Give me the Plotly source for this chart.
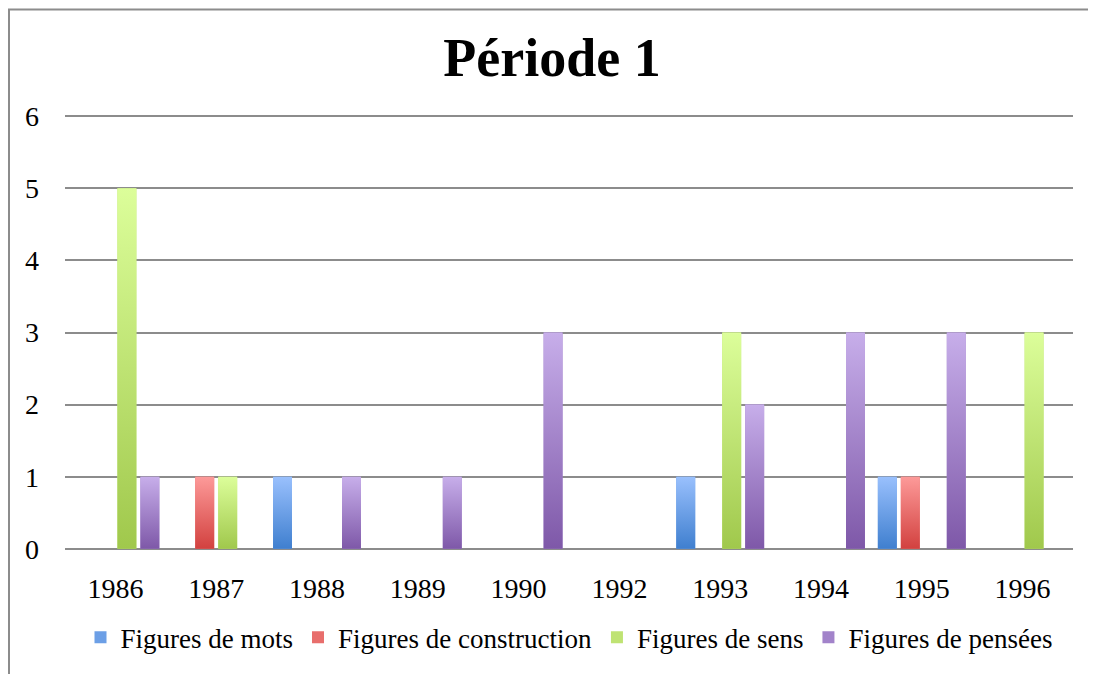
import plotly.graph_objects as go

years = ["1986", "1987", "1988", "1989", "1990", "1992", "1993", "1994", "1995", "1996"]
series_names = ["Figures de mots", "Figures de construction", "Figures de sens", "Figures de pensées"]
mots = [0, 0, 1, 0, 0, 0, 1, 0, 1, 0]
construction = [0, 1, 0, 0, 0, 0, 0, 0, 1, 0]
sens = [5, 1, 0, 0, 0, 0, 3, 0, 0, 3]
pensees = [1, 0, 1, 1, 3, 0, 2, 3, 3, 0]
y_ticks = [0, 1, 2, 3, 4, 5, 6]

series_values = [mots, construction, sens, pensees]
light = ["#99c0fd", "#fd9a99", "#dcfe9a", "#c7aeea"]
dark = ["#3f7fcf", "#d2413f", "#a0c84c", "#7e58a8"]
mid = ["#6c9fe6", "#e86e6c", "#bfe373", "#a283ca"]

SLOT = 0.228
BAR_W = 0.188
FONT = "Liberation Serif"

W, H = 1088, 666
L, R, T, B = 57, 23, 106, 121
plot_h = H - T - B
plot_w = W - L - R
PAD = 0.03

xpos = list(range(len(years)))
fig = go.Figure()

for k, (name, vals) in enumerate(zip(series_names, series_values)):
    offset = (k - 2) * SLOT + (SLOT - BAR_W) / 2
    fig.add_trace(go.Bar(
        x=xpos, y=vals, name=name,
        offset=offset, width=BAR_W,
        marker=dict(color=mid[k], line=dict(width=0)),
    ))
    # vertical gradient overlay for each bar
    for i, v in zip(xpos, vals):
        if v <= 0:
            continue
        x0 = i + offset
        x1 = x0 + BAR_W
        fig.add_trace(go.Scatter(
            x=[x0, x1, x1, x0, x0], y=[0, 0, v, v, 0],
            mode="lines", line=dict(width=0), fill="toself",
            fillgradient=dict(type="vertical",
                              colorscale=[[0, dark[k]], [1, light[k]]]),
            hoverinfo="skip", showlegend=False,
        ))

ymin, ymax = -PAD, 6 + PAD
def ypaper(px_from_top):
    # convert a figure pixel y (from top) into paper coordinates
    return (H - B - px_from_top) / plot_h

fig.update_layout(
    width=W, height=H,
    barmode="overlay",
    paper_bgcolor="white", plot_bgcolor="white",
    margin=dict(l=L, r=R, t=T, b=B),
    title=dict(text="<b>Période 1</b>", x=0.5, xanchor="center",
               y=1 - 49 / H, yanchor="middle",
               font=dict(family=FONT, size=54, color="black")),
    font=dict(family=FONT, size=28, color="black"),
    xaxis=dict(range=[-0.5, len(years) - 0.5], tickmode="array",
               tickvals=xpos, ticktext=years, showgrid=False,
               zeroline=False, showline=False, ticks="",
               tickfont=dict(size=28), ticklabelstandoff=18),
    yaxis=dict(range=[ymin, ymax], tickmode="array", tickvals=y_ticks,
               showgrid=True, gridcolor="#8c8c8c", gridwidth=2,
               zeroline=True, zerolinecolor="#8c8c8c", zerolinewidth=2,
               showline=False, ticks="",
               tickfont=dict(size=28), ticklabelstandoff=25),
    legend=dict(orientation="h", x=0.5, xanchor="center",
                y=ypaper(632), yanchor="middle",
                font=dict(size=27), itemwidth=30, tracegroupgap=0),
    shapes=[dict(type="path", xref="paper", yref="paper",
                 path=f"M {(1 - L) / plot_w},-0.5 L {(1 - L) / plot_w},{ypaper(1)} L 1.1,{ypaper(1)}",
                 line=dict(color="#8c8c8c", width=2))],
)

fig.write_html("out.html")
